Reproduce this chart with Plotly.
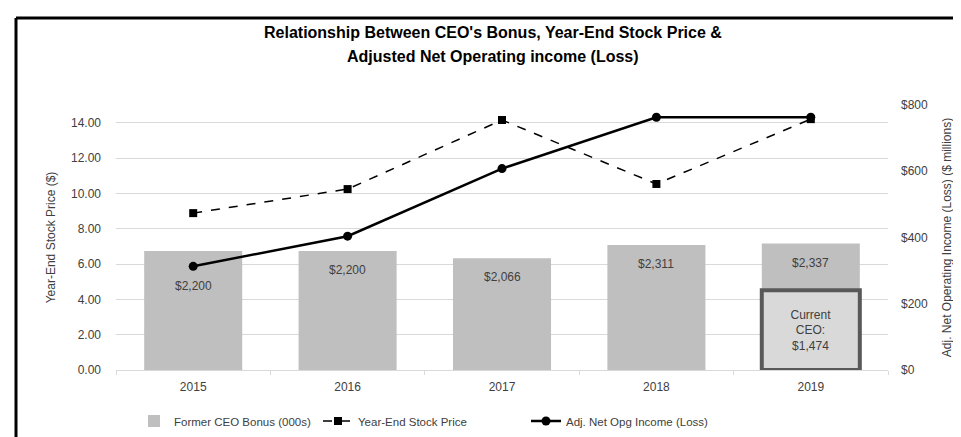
import plotly.graph_objects as go

years = ["2015", "2016", "2017", "2018", "2019"]
former_bonus = [2200, 2200, 2066, 2311, 2337]          # $000s
bonus_labels = ["$2,200", "$2,200", "$2,066", "$2,311", "$2,337"]
current_year = ["2019"]
current_bonus = [1474]
current_label = ["Current<br>CEO:<br>$1,474"]
stock_price = [8.88, 10.24, 14.15, 10.53, 14.20]
net_opg_income = [313, 404, 608, 763, 763]              # $ millions
left_ticks = [0, 2, 4, 6, 8, 10, 12, 14]
right_ticks = [0, 200, 400, 600, 800]
right_tick_text = ["$0", "$200", "$400", "$600", "$800"]
title_lines = ["Relationship Between CEO's Bonus, Year-End Stock Price &",
               "Adjusted Net Operating income (Loss)"]

FONT = "Liberation Sans, Arial, sans-serif"
TXT = "#404040"

# plot area in pixels
L, R, T, B = 108, 880, 97, 362
W, H = R - L, B - T


def px_x(px):
    return (px - L) / W


def px_y(py):
    return (B - py) / H


fig = go.Figure()

fig.add_trace(go.Bar(
    x=years, y=former_bonus, yaxis="y", name="Former CEO Bonus (000s)",
    legend="legend",
    marker=dict(color="#bfbfbf", line=dict(width=0)),
))
fig.add_trace(go.Bar(
    x=current_year, y=current_bonus, yaxis="y", showlegend=False,
    marker=dict(color="#d9d9d9", line=dict(color="#595959", width=4)),
    text=current_label, textposition="inside", insidetextanchor="middle",
    textfont=dict(family=FONT, size=12, color=TXT), hoverinfo="skip",
))
fig.add_trace(go.Scatter(
    x=years, y=stock_price, yaxis="y2", name="Year-End Stock Price",
    legend="legend2", mode="lines+markers",
    line=dict(color="black", width=1.5, dash="dash"),
    marker=dict(symbol="square", size=8, color="black"),
))
fig.add_trace(go.Scatter(
    x=years, y=net_opg_income, yaxis="y3", name="Adj. Net Opg Income (Loss)",
    legend="legend3", mode="lines+markers",
    line=dict(color="black", width=2.5),
    marker=dict(symbol="circle", size=9, color="black"),
))

# bar value labels (x given as category index)
for i, (v, lab) in enumerate(zip(former_bonus, bonus_labels)):
    fig.add_annotation(x=i, y=v, xref="x", yref="y", text=lab, showarrow=False,
                       yshift=-35 if i == 0 else -19,
                       font=dict(family=FONT, size=12, color=TXT))

# title (two lines)
for py, line in zip([24, 48], title_lines):
    fig.add_annotation(x=px_x(485), y=px_y(py), xref="paper", yref="paper",
                       xanchor="center", yanchor="middle", text=f"<b>{line}</b>",
                       showarrow=False,
                       font=dict(family=FONT, size=16, color="black"))

legend_common = dict(orientation="h", xanchor="left", yanchor="middle",
                     y=px_y(413), font=dict(family=FONT, size=11.5, color=TXT),
                     bgcolor="rgba(0,0,0,0)")

fig.update_layout(
    width=961, height=437,
    margin=dict(l=L, r=961 - R, t=T, b=437 - B, autoexpand=False),
    paper_bgcolor="white", plot_bgcolor="white",
    barmode="overlay", bargap=0.365,
    font=dict(family=FONT, size=12, color=TXT),
    xaxis=dict(type="category", showline=True, linecolor="#d9d9d9", linewidth=1,
               ticks="outside", tickson="boundaries", ticklen=4, tickcolor="#d9d9d9",
               ticklabelstandoff=6,
               tickfont=dict(size=12, color=TXT), showgrid=False, automargin=False),
    yaxis=dict(range=[0, 4900], visible=False, showgrid=False, fixedrange=True),
    yaxis2=dict(overlaying="y", side="left", anchor="x", range=[0, 15],
                tickvals=left_ticks, tickformat=".2f", showgrid=True,
                gridcolor="#d9d9d9", gridwidth=1, zeroline=False, automargin=False,
                tickfont=dict(size=12, color=TXT), ticks="", ticklabelstandoff=14,
                title=dict(text="Year-End Stock Price ($)", standoff=12,
                           font=dict(size=12, color=TXT))),
    yaxis3=dict(overlaying="y", side="right", anchor="x", range=[0, 800],
                tickvals=right_ticks, ticktext=right_tick_text, showgrid=False,
                zeroline=False, automargin=False,
                tickfont=dict(size=12, color=TXT), ticklabelstandoff=12,
                title=dict(text="Adj. Net Operating Income (Loss) ($ millions)", standoff=15,
                           font=dict(size=12, color=TXT))),
    legend=dict(x=px_x(126), **legend_common),
    legend2=dict(x=px_x(310), **legend_common),
    legend3=dict(x=px_x(518), **legend_common),
    showlegend=True,
)

# outer frame (top and left edges visible)
fig.add_shape(type="line", xref="paper", yref="paper",
              x0=px_x(8), x1=px_x(975), y0=px_y(10), y1=px_y(10),
              line=dict(color="black", width=3))
fig.add_shape(type="line", xref="paper", yref="paper",
              x0=px_x(8), x1=px_x(8), y0=px_y(10), y1=px_y(450),
              line=dict(color="black", width=3))

fig.write_html("out.html")
